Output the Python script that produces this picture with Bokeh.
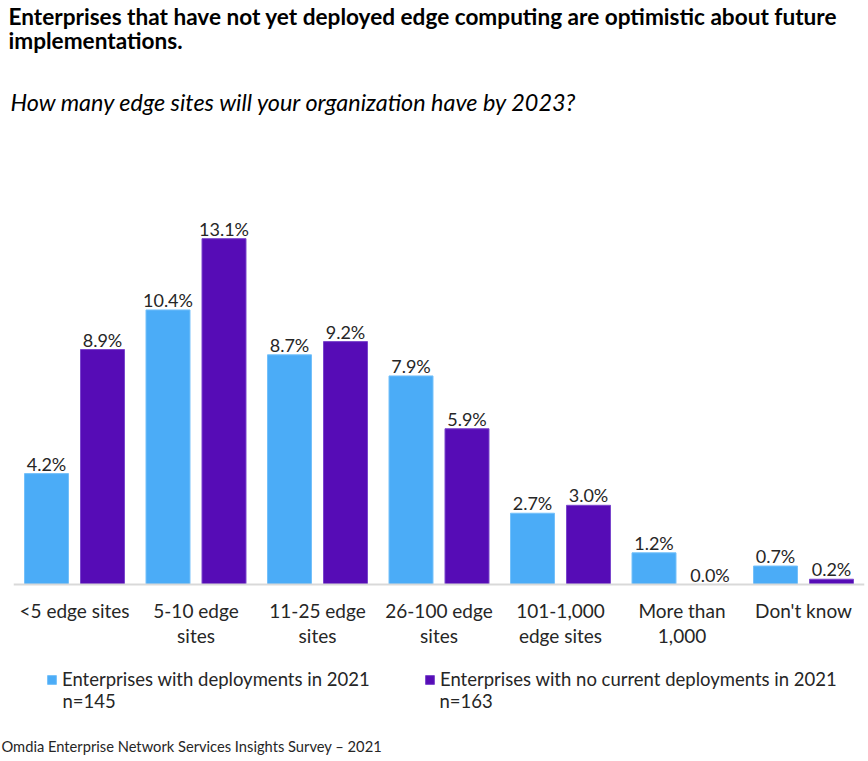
from bokeh.plotting import figure
from bokeh.models import Range1d, ColumnDataSource, Legend, LegendItem
from bokeh.core.properties import value
from bokeh.embed import file_html
from bokeh.resources import INLINE

# ---- data ----
categories = ["<5 edge sites", "5-10 edge\nsites", "11-25 edge\nsites", "26-100 edge\nsites",
              "101-1,000\nedge sites", "More than\n1,000", "Don't know"]
with_deploy = [4.2, 10.4, 8.7, 7.9, 2.7, 1.2, 0.7]
no_deploy = [8.9, 13.1, 9.2, 5.9, 3.0, 0.0, 0.2]
series_names = ["Enterprises with deployments in 2021", "Enterprises with no current deployments in 2021"]
series_n = ["n=145", "n=163"]
title_lines = ["Enterprises that have not yet deployed edge computing are optimistic about future",
               "implementations."]
subtitle = "How many edge sites will your organization have by 2023?"
footer = "Omdia Enterprise Network Services Insights Survey \u2013 2021"

# ---- layout constants (pixels) ----
W, H = 866, 760
PX_PER_UNIT_X = 121.5
PX_PER_PCT = 26.4
BASE_Y = 584          # baseline, canvas px from top
LEFT0 = 13.25         # canvas x of category 0 left edge

def ycanvas(py):
    """canvas px from top -> data y"""
    return (BASE_Y - py) / PX_PER_PCT

def xcanvas(px):
    return (px - LEFT0) / PX_PER_UNIT_X

FONT = "Lato"
BLUE = "#4BACF7"
PURPLE = "#560CB6"

p = figure(width=W, height=H, output_backend="svg", toolbar_location=None,
           x_range=Range1d(xcanvas(0), xcanvas(W)), y_range=Range1d(ycanvas(H), ycanvas(0)),
           min_border=0, outline_line_color=None)
p.axis.visible = False
p.grid.visible = False

n = len(categories)
centers = [i + 0.5 for i in range(n)]
off = 0.2305
bw = 0.362

src = ColumnDataSource(dict(
    x1=[c - off for c in centers], x2=[c + off for c in centers],
    a=with_deploy, b=no_deploy,
    la=[f"{v:.1f}%" for v in with_deploy], lb=[f"{v:.1f}%" for v in no_deploy],
))

r1 = p.vbar(x="x1", top="a", width=bw, bottom=0, source=src, fill_color=BLUE,
            line_color="#74C0FA", line_width=1)
r2 = p.vbar(x="x2", top="b", width=bw, bottom=0, source=src, fill_color=PURPLE,
            line_color="#7A45CC", line_width=1)

lab_kw = dict(text_font=value(FONT), text_font_size="18px", text_color="#262626",
              text_align="center", text_baseline="alphabetic", y_offset=-10)
p.text(x="x1", y="a", text="la", source=src, **lab_kw)
p.text(x="x2", y="b", text="lb", source=src, **lab_kw)

# baseline
p.segment(x0=[0], y0=[0], x1=[n], y1=[0], line_color="#D9D9D9", line_width=2)

# category labels
cx, cy, ct = [], [], []
for i, c in enumerate(categories):
    for j, line in enumerate(c.split("\n")):
        cx.append(centers[i])
        cy.append(ycanvas(610 + 25 * j))
        ct.append(line)
p.text(x=cx, y=cy, text=ct, text_font=value(FONT), text_font_size="19px",
       text_color="#262626", text_align="center", text_baseline="alphabetic")

# titles
p.text(x=[xcanvas(8)] * 2, y=[ycanvas(16), ycanvas(40)], text=title_lines,
       text_font=value(FONT), text_font_size="22.6px", text_font_style="bold",
       text_color="#000000", text_baseline="alphabetic")
p.text(x=[xcanvas(10)], y=[ycanvas(101)], text=[subtitle],
       text_font=value(FONT), text_font_size="23.4px", text_font_style="italic",
       text_color="#000000", text_baseline="alphabetic")

# legends
for r, name, lx in ((r1, series_names[0], 46), (r2, series_names[1], 424)):
    lg = Legend(items=[LegendItem(label=name, renderers=[r])], location=(lx, H - 690),
                orientation="horizontal", padding=0, margin=0, spacing=0,
                glyph_width=11, glyph_height=11, label_height=11, label_standoff=5,
                label_text_font=FONT, label_text_font_size="18.5px", label_text_color="#262626",
                border_line_color=None, background_fill_alpha=0)
    p.add_layout(lg)

p.text(x=[xcanvas(62), xcanvas(439)], y=[ycanvas(700)] * 2, text=series_n,
       text_font=value(FONT), text_font_size="18.5px", text_color="#262626",
       text_baseline="alphabetic")

p.text(x=[xcanvas(1)], y=[ycanvas(745)], text=[footer], text_font=value(FONT),
       text_font_size="14.7px", text_color="#262626", text_baseline="alphabetic")

open("out.html", "w").write(file_html(p, INLINE))
